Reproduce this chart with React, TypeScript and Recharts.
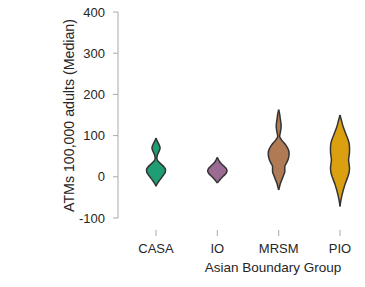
import React from 'react';
import { ComposedChart, Area, XAxis, YAxis, Label } from 'recharts';

const categories = ['CASA', 'IO', 'MRSM', 'PIO'];
const yTicks = [-100, 0, 100, 200, 300, 400];
const colors = ['#1f9e76', '#9b6b93', '#b07a55', '#dba00f'];

// value levels (top -> bottom) and half widths (in category units)
const casaValues = [94, 86, 78, 70, 62, 53, 44, 37, 30, 23, 17, 11, 5, -1, -8, -15, -23];
const casaHalfWidths = [0, 0.022, 0.05, 0.066, 0.05, 0.022, 0.014, 0.04, 0.09, 0.135, 0.155, 0.15, 0.125, 0.095, 0.06, 0.028, 0];

const ioValues = [47, 41, 34, 27, 20, 14, 8, 2, -4, -10, -15];
const ioHalfWidths = [0, 0.02, 0.05, 0.1, 0.145, 0.158, 0.14, 0.1, 0.06, 0.025, 0];

const mrsmValues = [163, 152, 142, 132, 122, 110, 98, 92, 86, 80, 74, 65, 57, 49, 41, 33, 25, 13, 1, -8, -15, -24, -32];
const mrsmHalfWidths = [0, 0.016, 0.025, 0.035, 0.04, 0.03, 0.016, 0.035, 0.065, 0.1, 0.13, 0.16, 0.17, 0.165, 0.15, 0.125, 0.1, 0.1, 0.072, 0.05, 0.03, 0.014, 0];

const pioValues = [150, 136, 122, 112, 102, 92, 82, 71, 61, 51, 41, 31, 21, 11, 1, -9, -19, -30, -40, -48, -56, -64, -72];
const pioHalfWidths = [0, 0.025, 0.05, 0.075, 0.1, 0.128, 0.148, 0.155, 0.155, 0.148, 0.14, 0.148, 0.155, 0.148, 0.13, 0.105, 0.08, 0.058, 0.04, 0.027, 0.016, 0.007, 0];

const X_MIN = 0.38;
const X_MAX = 4.326;

const seriesValues = [casaValues, ioValues, mrsmValues, pioValues];
const seriesHalfWidths = [casaHalfWidths, ioHalfWidths, mrsmHalfWidths, pioHalfWidths];

const violins = categories.map((name, i) => {
  const center = i + 1;
  const data = seriesValues[i].map((v, j) => ({
    v,
    r: [center - seriesHalfWidths[i][j], center + seriesHalfWidths[i][j]],
  }));
  return { name, color: colors[i], data };
});

const textColor = '#262626';
const axisColor = '#aaaaaa';

const CategoryTick = (props: any) => {
  const { x, y, payload } = props;
  const label = categories[Math.round(payload.value) - 1];
  return (
    <g>
      <line x1={x} x2={x} y1={y + 12} y2={y + 18} stroke={axisColor} />
      <text x={x} y={y + 35} textAnchor="middle" fill={textColor} fontSize={13}>
        {label}
      </text>
    </g>
  );
};

export default function App() {
  return (
    <div style={{ position: 'absolute', left: 0, top: 0, fontFamily: '"Liberation Sans", Arial, sans-serif' }}>
      <ComposedChart
        width={365}
        height={287}
        layout="vertical"
        margin={{ top: 12, right: 5, bottom: 0, left: 0 }}
      >
        <XAxis
          type="number"
          domain={[X_MIN, X_MAX]}
          ticks={[1, 2, 3, 4]}
          allowDataOverflow
          interval={0}
          axisLine={false}
          tickLine={false}
          tickSize={0}
          tickMargin={0}
          height={69}
          tick={<CategoryTick />}
        >
          <Label
            content={(props: any) => {
              const vb = props.viewBox || { x: 118, y: 218 };
              return (
                <text x={vb.x + 155} y={vb.y + 54} textAnchor="middle" fill={textColor} fontSize={13.5}>
                  Asian Boundary Group
                </text>
              );
            }}
          />
        </XAxis>
        <YAxis
          type="number"
          dataKey="v"
          domain={[-100, 400]}
          ticks={yTicks}
          reversed
          allowDataOverflow
          interval={0}
          axisLine={{ stroke: axisColor }}
          tickLine={{ stroke: axisColor }}
          tickSize={5}
          tickMargin={8}
          width={118}
          tick={{ fill: textColor, fontSize: 13 }}
        >
          <Label
            content={(props: any) => {
              const vb = props.viewBox || { x: 0, y: 12 };
              const cx = vb.x + 74;
              const cy = vb.y + 103.5;
              return (
                <text x={cx} y={cy} transform={`rotate(-90, ${cx}, ${cy})`} textAnchor="middle" fill={textColor} fontSize={14.2}>
                  ATMs 100,000 adults (Median)
                </text>
              );
            }}
          />
        </YAxis>
        {violins.map((vl) => (
          <Area
            key={vl.name}
            data={vl.data}
            dataKey="r"
            type="monotone"
            fill={vl.color}
            fillOpacity={1}
            stroke="#333333"
            strokeWidth={1.5}
            isAnimationActive={false}
            dot={false}
            activeDot={false}
          />
        ))}
      </ComposedChart>
    </div>
  );
}
